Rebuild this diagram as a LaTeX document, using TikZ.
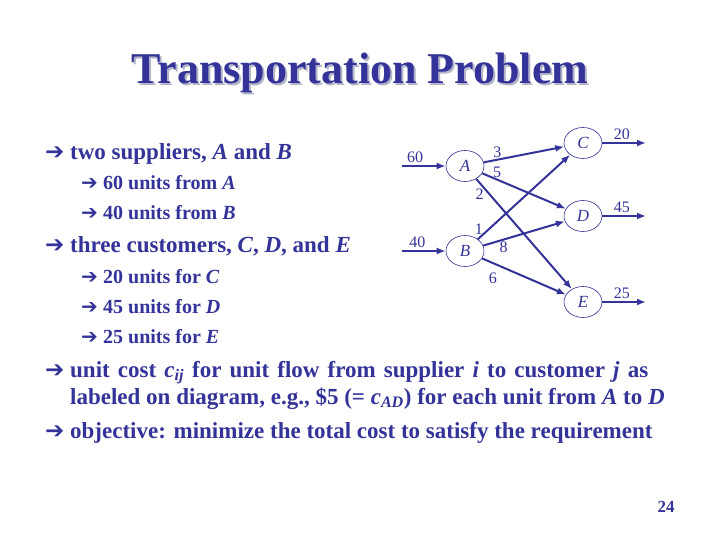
\documentclass[tikz,border=0pt]{standalone}
\usepackage{fontspec}
\setmainfont{Liberation Serif}
\newfontfamily\simbolos{DejaVu Sans}
\usetikzlibrary{arrows.meta, positioning, shapes.geometric}
\definecolor{azulmarino}{HTML}{333399}
\definecolor{grissombra}{HTML}{B4B4C8}
\colorlet{colTexto}{azulmarino}
\colorlet{colRed}{azulmarino}
\colorlet{colSombra}{grissombra}
\newcommand{\flechita}{{\simbolos\char"2794}}
\newcommand{\vinetaUno}{\llap{\makebox[25pt][l]{\flechita}}}
\newcommand{\vinetaDos}{\llap{\makebox[22pt][l]{\flechita}}}
\newcommand{\costo}[1]{\textit{c}\textsubscript{\textit{#1}}}
\tikzset{
  textoBase/.style={anchor=base west, inner sep=0pt, text=colTexto,
    font=\bfseries\fontsize{23}{27}\selectfont, align=left},
  textoSub/.style={textoBase, font=\bfseries\fontsize{20}{23}\selectfont},
  nodoRed/.style={ellipse, draw=colRed, line width=0.6pt,
    minimum width=38pt, minimum height=31pt, inner sep=0pt,
    font=\itshape\fontsize{17}{17}\selectfont, text=colRed},
  flecha/.style={-{Latex[length=9pt,width=7pt]}, line width=2pt, colRed},
  etiquetaCosto/.style={font=\fontsize{16}{16}\selectfont, text=colRed, inner sep=1pt},
}
\begin{document}
\begin{tikzpicture}[x=1pt, y=-1pt]
  \useasboundingbox (0,0) rectangle (720,540);
  % titulo con sombra
  \node[font=\bfseries\fontsize{44}{44}\selectfont, text=colSombra] at (362,75) {Transportation Problem};
  \node[font=\bfseries\fontsize{44}{44}\selectfont, text=colTexto] (titulo) at (360,73) {Transportation Problem};

  % listado
  \node[textoBase] (b1) at (70,160) {\vinetaUno two suppliers, \textit{A} and \textit{B}};
  \node[textoSub] (b1a) at (103,190) {\vinetaDos 60 units from \textit{A}};
  \node[textoSub] (b1b) at (103,220) {\vinetaDos 40 units from \textit{B}};
  \node[textoBase] (b2) at (70,252) {\vinetaUno three customers, \textit{C}, \textit{D}, and \textit{E}};
  \node[textoSub] (b2a) at (103,283) {\vinetaDos 20 units for \textit{C}};
  \node[textoSub] (b2b) at (103,313) {\vinetaDos 45 units for \textit{D}};
  \node[textoSub] (b2c) at (103,343) {\vinetaDos 25 units for \textit{E}};
  \node[textoBase] (b3) at (70,404) {\vinetaUno\makebox[578pt][s]{unit cost \costo{ij} for unit flow from supplier \textit{i} to customer \textit{j} as}\\
    labeled on diagram, e.g., \$5 (= \costo{AD}) for each unit from \textit{A} to \textit{D}};
  \node[textoBase] (b4) at (70,438) {\vinetaUno objective: minimize the total cost to satisfy the requirement};

  % red de transporte
  \node[nodoRed] (A) at (465,166) {A};
  \node[nodoRed] (B) at (465,251) {B};
  \node[nodoRed] (C) at (583,143) {C};
  \node[nodoRed] (D) at (583,216) {D};
  \node[nodoRed] (E) at (583,302) {E};
  \coordinate (ofA) at (402,166);
  \coordinate (ofB) at (402,251);
  \coordinate (deC) at (646,143);
  \coordinate (deD) at (646,216);
  \coordinate (deE) at (646,302);

  \draw[flecha] (ofA) -- node[etiquetaCosto, above=1pt, pos=0.3] {60} (A);
  \draw[flecha] (ofB) -- node[etiquetaCosto, above=1pt, pos=0.35] {40} (B);
  \draw[flecha] (C) -- node[etiquetaCosto, above=1pt, pos=0.45] {20} (deC);
  \draw[flecha] (D) -- node[etiquetaCosto, above=1pt, pos=0.45] {45} (deD);
  \draw[flecha] (E) -- node[etiquetaCosto, above=1pt, pos=0.45] {25} (deE);

  \draw[flecha] (A) -- node[etiquetaCosto, above, pos=0.17] {3} (C);
  \draw[flecha] (A) -- node[etiquetaCosto, above, pos=0.18] {5} (D);
  \draw[flecha] (A) -- node[etiquetaCosto, left=4pt, pos=0.14] {2} (E);
  \draw[flecha] (B) -- node[etiquetaCosto, left=4pt, pos=0.12] {1} (C);
  \draw[flecha] (B) -- node[etiquetaCosto, below, pos=0.25] {8} (D);
  \draw[flecha] (B) -- node[etiquetaCosto, below left=5pt and 0pt, pos=0.2] {6} (E);

  \node[font=\bfseries\fontsize{17}{17}\selectfont, text=colTexto] (pagina) at (666,507) {24};
\end{tikzpicture}
\end{document}
